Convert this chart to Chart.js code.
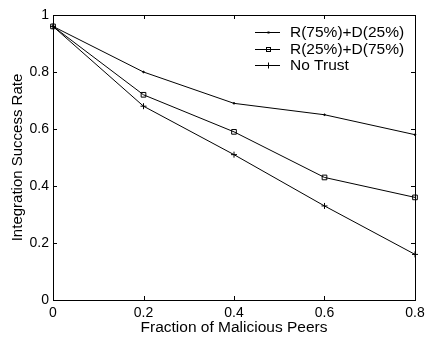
<!DOCTYPE html>
<html>
<head>
<meta charset="utf-8">
<script src="https://cdn.jsdelivr.net/npm/chart.js@4.4.0/dist/chart.umd.min.js"></script>
<style>
  html, body { margin: 0; padding: 0; background: #fff; }
  #wrap { width: 426px; height: 337px; }
</style>
</head>
<body>
<div id="wrap"><canvas id="c" width="426" height="337"></canvas></div>
<script>
const fractions = [0, 0.2, 0.4, 0.6, 0.8];
const r75d25 = [0.96, 0.80, 0.69, 0.65, 0.58];
const r25d75 = [0.96, 0.72, 0.59, 0.43, 0.36];
const noTrust = [0.96, 0.68, 0.51, 0.33, 0.16];
const seriesNames = ["R(75%)+D(25%)", "R(25%)+D(75%)", "No Trust"];
const xTicks = [0, 0.2, 0.4, 0.6, 0.8];
const yTicks = [0, 0.2, 0.4, 0.6, 0.8, 1];

const FONT = "Liberation Sans, Arial, sans-serif";

function pts(ys) {
  return fractions.map((x, i) => ({ x: x, y: ys[i] }));
}

// box + inward ticks + legend, matlab style
const boxPlugin = {
  id: "box",
  afterDraw(ch) {
    const ctx = ch.ctx;
    const a = ch.chartArea;
    const xs = ch.scales.x, ys = ch.scales.y;
    ctx.save();
    ctx.strokeStyle = "#000";
    ctx.lineWidth = 1;
    ctx.strokeRect(a.left + 0.5, a.top + 0.5, a.right - a.left, a.bottom - a.top);
    ctx.beginPath();
    xTicks.forEach(v => {
      const px = Math.round(xs.getPixelForValue(v)) + 0.5;
      ctx.moveTo(px, a.bottom); ctx.lineTo(px, a.bottom - 4);
      ctx.moveTo(px, a.top); ctx.lineTo(px, a.top + 4);
    });
    yTicks.forEach(v => {
      const py = Math.round(ys.getPixelForValue(v)) + 0.5;
      ctx.moveTo(a.left, py); ctx.lineTo(a.left + 4, py);
      ctx.moveTo(a.right, py); ctx.lineTo(a.right - 4, py);
    });
    ctx.stroke();

    // legend
    ctx.font = "15.5px " + FONT;
    ctx.textBaseline = "middle";
    ctx.fillStyle = "#000";
    ch.data.datasets.forEach((ds, i) => {
      const y = 32 + i * 16.5;
      const x0 = 255, x1 = 280;
      ctx.beginPath();
      ctx.moveTo(x0, Math.round(y) + 0.5); ctx.lineTo(x1, Math.round(y) + 0.5);
      ctx.stroke();
      const mx = Math.round((x0 + x1) / 2) + 0.5;
      const my = Math.round(y) + 0.5;
      if (ds.pointStyle === "rect") {
        ctx.strokeRect(mx - 2, my - 2, 4, 4);
      } else if (ds.pointStyle === "cross") {
        ctx.beginPath();
        ctx.moveTo(mx, my - 3); ctx.lineTo(mx, my + 3);
        ctx.stroke();
      } else {
        ctx.fillRect(mx - 1, my - 1, 2, 2);
      }
      ctx.fillText(ds.label, 290, y + 1);
    });
    ctx.restore();
  }
};

new Chart(document.getElementById("c"), {
  type: "line",
  data: {
    datasets: [
      { label: seriesNames[0], data: pts(r75d25), pointStyle: "circle", pointRadius: 0.8 },
      { label: seriesNames[1], data: pts(r25d75), pointStyle: "rect", pointRadius: 3.3 },
      { label: seriesNames[2], data: pts(noTrust), pointStyle: "cross", pointRadius: 3 }
    ].map(d => Object.assign(d, {
      borderColor: "#000",
      backgroundColor: "#000",
      pointBorderColor: "#000",
      pointBackgroundColor: d.pointStyle === "rect" ? "rgba(0,0,0,0)" : "#000",
      borderWidth: 1,
      pointBorderWidth: 1,
      tension: 0,
      clip: false
    }))
  },
  options: {
    responsive: false,
    animation: false,
    layout: { padding: { top: 15, right: 11, left: 0, bottom: 0 } },
    plugins: { legend: { display: false }, tooltip: { enabled: false } },
    scales: {
      x: {
        type: "linear",
        min: 0, max: 0.8,
        afterBuildTicks: s => { s.ticks = xTicks.map(v => ({ value: v })); },
        afterFit: s => { s.height = 37; s.paddingLeft = 0; s.paddingRight = 0; },
        grid: { display: false, drawTicks: false },
        border: { display: false },
        ticks: { color: "#000", font: { family: FONT, size: 14 }, padding: 5, maxRotation: 0,
                 callback: v => String(v) },
        title: { display: true, text: "Fraction of Malicious Peers", color: "#000",
                 font: { family: FONT, size: 15.5 }, padding: { top: 0, bottom: 0 } }
      },
      y: {
        min: 0, max: 1,
        afterBuildTicks: s => { s.ticks = yTicks.map(v => ({ value: v })); },
        afterFit: s => { s.width = 53; s.paddingTop = 0; s.paddingBottom = 0; },
        grid: { display: false, drawTicks: false },
        border: { display: false },
        ticks: { color: "#000", font: { family: FONT, size: 14 }, padding: 4,
                 callback: v => String(v) },
        title: { display: true, text: "Integration Success Rate", color: "#000",
                 font: { family: FONT, size: 15 }, padding: { top: 9, bottom: 0 } }
      }
    }
  },
  plugins: [boxPlugin]
});
</script>
</body>
</html>
